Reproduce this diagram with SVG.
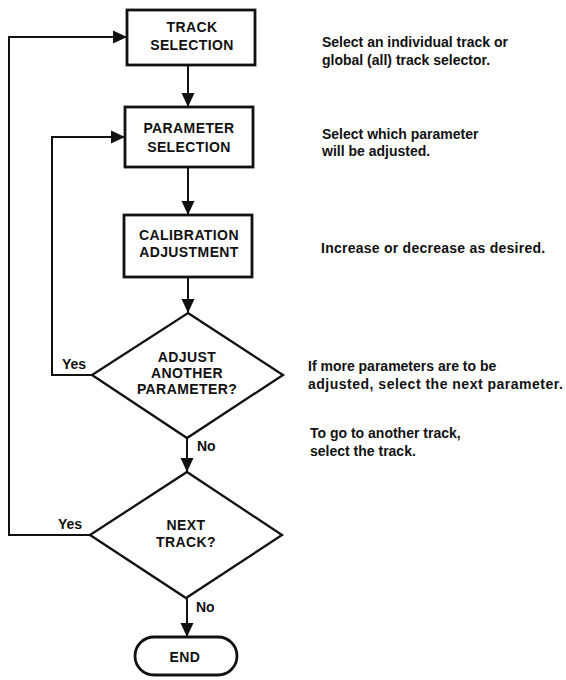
<svg xmlns="http://www.w3.org/2000/svg" width="566" height="680" viewBox="0 0 566 680">
<style>
.box{fill:#fff;stroke:#111;stroke-width:2.8}
.dia{fill:#fff;stroke:#111;stroke-width:2.3}
.t{font-family:"Liberation Sans",Arial,sans-serif;font-weight:bold;font-size:14px;fill:#111}
.c{text-anchor:middle;letter-spacing:0.4px}
.edge{fill:none;stroke:#111;stroke-width:2}
</style>
<defs>
<marker id="ah" markerUnits="userSpaceOnUse" markerWidth="15" markerHeight="15" viewBox="0 0 15 15" refX="14" refY="7.5" orient="auto">
<path d="M0,1 L14,7.5 L0,14 Z" fill="#111"/>
</marker>
</defs>
<rect width="566" height="680" fill="#fff"/>
<g id="connectors">
<path class="edge" d="M188,65 L188,107" marker-end="url(#ah)"/>
<path class="edge" d="M188,167 L188,215" marker-end="url(#ah)"/>
<path class="edge" d="M188,277 L188,313" marker-end="url(#ah)"/>
<path class="edge" d="M187,438 L187,472" marker-end="url(#ah)"/>
<path class="edge" d="M187,598 L187,637" marker-end="url(#ah)"/>
<path class="edge" d="M92,375 L52,375 L52,137 L125,137" marker-end="url(#ah)"/>
<path class="edge" d="M92,535 L9,535 L9,37 L127,37" marker-end="url(#ah)"/>
<text class="t" x="62" y="369">Yes</text>
<text class="t" x="58" y="529">Yes</text>
<text class="t" x="197" y="451">No</text>
<text class="t" x="196" y="612">No</text>
</g>
<g id="track">
<rect class="box" x="127" y="10" width="128" height="55"/>
<text class="t c" x="192" y="32">TRACK</text>
<text class="t c" x="192" y="50">SELECTION</text>
</g>
<g id="param">
<rect class="box" x="125" y="107" width="128" height="60"/>
<text class="t c" x="189" y="133">PARAMETER</text>
<text class="t c" x="189" y="152">SELECTION</text>
</g>
<g id="calib">
<rect class="box" x="124" y="215" width="128" height="62"/>
<text class="t c" x="189" y="240">CALIBRATION</text>
<text class="t c" x="189" y="257">ADJUSTMENT</text>
</g>
<g id="adjust">
<polygon class="dia" points="188,313 283,375 187,438 92,375"/>
<text class="t c" x="187" y="362">ADJUST</text>
<text class="t c" x="187" y="378">ANOTHER</text>
<text class="t c" x="187" y="394">PARAMETER?</text>
</g>
<g id="next">
<polygon class="dia" points="187,472 282,535 186,598 90,535"/>
<text class="t c" x="186" y="530">NEXT</text>
<text class="t c" x="186" y="547">TRACK?</text>
</g>
<g id="end">
<rect class="box" x="135" y="637" width="102" height="38" rx="19" ry="19"/>
<text class="t c" x="185" y="662">END</text>
</g>
<g id="notes">
<text class="t" x="322" y="47">Select an individual track or</text>
<text class="t" x="322" y="65">global (all) track selector.</text>
<text class="t" x="322" y="139">Select which parameter</text>
<text class="t" x="322" y="156">will be adjusted.</text>
<text class="t" x="321" y="253" letter-spacing="0.25">Increase or decrease as desired.</text>
<text class="t" x="308" y="371">If more parameters are to be</text>
<text class="t" x="308" y="389" letter-spacing="0.5">adjusted, select the next parameter.</text>
<text class="t" x="310" y="438">To go to another track,</text>
<text class="t" x="310" y="456">select the track.</text>
</g>
</svg>
